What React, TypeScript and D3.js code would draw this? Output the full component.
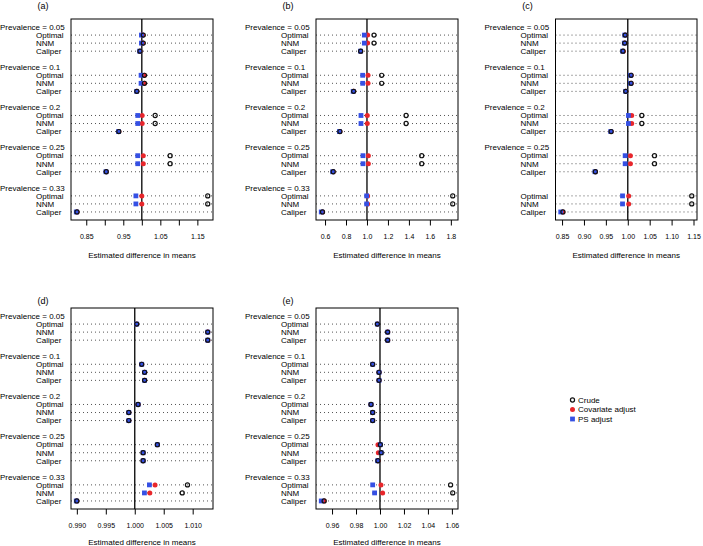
import { useEffect, useRef } from "react";
import * as d3 from "d3";

const PREVALENCES = ["0.05", "0.1", "0.2", "0.25", "0.33"];
const METHODS = ["Optimal", "NNM", "Caliper"];
const SERIES = ["Crude", "Covariate adjust", "PS adjust"];

// every series: Optimal, NNM, Caliper for prevalence 0.05, 0.1, 0.2, 0.25, 0.33
const A_CRUDE = [1.004, 1.004, 0.995, 1.007, 1.007, 0.9865, 1.036, 1.036, 0.938, 1.0765, 1.0765, 0.904, 1.178, 1.178, 0.825];
const A_COVARIATE = [1.002, 1.002, 0.995, 1.007, 1.007, 0.9865, 1.001, 1.001, 0.938, 1.004, 1.004, 0.904, 1.0, 1.0, 0.825];
const A_PS = [0.999, 0.999, 0.994, 0.998, 0.998, 0.986, 0.989, 0.989, 0.937, 0.989, 0.989, 0.903, 0.984, 0.984, 0.823];

const B_CRUDE = [1.067, 1.067, 0.94, 1.14, 1.14, 0.873, 1.373, 1.373, 0.742, 1.522, 1.522, 0.678, 1.818, 1.818, 0.576];
const B_COVARIATE = [1.006, 1.006, 0.94, 1.01, 1.01, 0.873, 1.003, 1.003, 0.742, 1.013, 1.013, 0.678, 1.006, 1.006, 0.576];
const B_PS = [0.975, 0.975, 0.938, 0.959, 0.959, 0.868, 0.943, 0.943, 0.737, 0.962, 0.962, 0.672, 0.997, 0.997, 0.564];

const C_CRUDE = [0.994, 0.993, 0.989, 1.0076, 1.0076, 0.9954, 1.032, 1.032, 0.962, 1.061, 1.061, 0.926, 1.146, 1.146, 0.852];
const C_COVARIATE = [0.994, 0.993, 0.99, 1.0076, 1.0076, 0.9954, 1.009, 1.009, 0.962, 1.006, 1.006, 0.926, 1.002, 1.002, 0.852];
const C_PS = [0.993, 0.992, 0.988, 1.006, 1.006, 0.995, 1.0015, 1.0015, 0.961, 0.994, 0.994, 0.925, 0.988, 0.988, 0.847];

const D_CRUDE = [1.00034, 1.0126, 1.0126, 1.0012, 1.0017, 1.0017, 1.00057, 0.99897, 0.99897, 1.0039, 1.00144, 1.00144, 1.0091, 1.0082, 0.99];
const D_COVARIATE = [1.00034, 1.0126, 1.0126, 1.0012, 1.0017, 1.0017, 1.00057, 0.99897, 0.99897, 1.0039, 1.00144, 1.00144, 1.0035, 1.0026, 0.99];
const D_PS = [1.00034, 1.0126, 1.0126, 1.0012, 1.0017, 1.0017, 1.00057, 0.99897, 0.99897, 1.0039, 1.00144, 1.00144, 1.00253, 1.00167, 0.9899];

const E_CRUDE = [0.9978, 1.0064, 1.0064, 0.9939, 0.9992, 0.9992, 0.9925, 0.9939, 0.9939, 1.0003, 1.001, 0.9983, 1.0589, 1.0607, 0.9534];
const E_COVARIATE = [0.9978, 1.0064, 1.0064, 0.9939, 0.9992, 0.9992, 0.9925, 0.9939, 0.9939, 0.9983, 0.9986, 0.9983, 1.0008, 1.0022, 0.9534];
const E_PS = [0.9978, 1.0064, 1.0064, 0.9939, 0.9992, 0.9992, 0.9925, 0.9939, 0.9939, 1.0003, 1.001, 0.998, 0.9939, 0.9955, 0.951];

const A_TICKS = [0.85, 0.9, 0.95, 1.0, 1.05, 1.1, 1.15];
const A_TICK_LABELS = ["0.85", "", "0.95", "", "1.05", "", "1.15"];
const B_TICKS = [0.6, 0.8, 1.0, 1.2, 1.4, 1.6, 1.8];
const B_TICK_LABELS = ["0.6", "0.8", "1.0", "1.2", "1.4", "1.6", "1.8"];
const C_TICKS = [0.85, 0.9, 0.95, 1.0, 1.05, 1.1, 1.15];
const C_TICK_LABELS = ["0.85", "0.90", "0.95", "1.00", "1.05", "1.10", "1.15"];
const D_TICKS = [0.99, 0.995, 1.0, 1.005, 1.01];
const D_TICK_LABELS = ["0.990", "0.995", "1.000", "1.005", "1.010"];
const E_TICKS = [0.96, 0.98, 1.0, 1.02, 1.04, 1.06];
const E_TICK_LABELS = ["0.96", "0.98", "1.00", "1.02", "1.04", "1.06"];

// panel (c) has no label on its last group
const C_GROUP_LABELS = ["0.05", "0.1", "0.2", "0.25", ""];

const COLORS = { crude: "#111111", covariate: "#e8262b", ps: "#3550e4" };
const FONT = "'Liberation Sans', Arial, Helvetica, sans-serif";

const PANELS = [
  { tag: "(a)", left: 71, top: 19, width: 142, titleY: 9, xTitleY: 258, crude: A_CRUDE, covariate: A_COVARIATE, ps: A_PS, ticks: A_TICKS, tickLabels: A_TICK_LABELS, groups: PREVALENCES },
  { tag: "(b)", left: 316, top: 19, width: 142, titleY: 9, xTitleY: 258, crude: B_CRUDE, covariate: B_COVARIATE, ps: B_PS, ticks: B_TICKS, tickLabels: B_TICK_LABELS, groups: PREVALENCES },
  { tag: "(c)", left: 555.5, top: 19, width: 141.5, titleY: 9, xTitleY: 258, crude: C_CRUDE, covariate: C_COVARIATE, ps: C_PS, ticks: C_TICKS, tickLabels: C_TICK_LABELS, groups: C_GROUP_LABELS },
  { tag: "(d)", left: 71, top: 308, width: 142, titleY: 303.5, xTitleY: 544.5, crude: D_CRUDE, covariate: D_COVARIATE, ps: D_PS, ticks: D_TICKS, tickLabels: D_TICK_LABELS, groups: PREVALENCES },
  { tag: "(e)", left: 316, top: 308, width: 142, titleY: 303.5, xTitleY: 544.5, crude: E_CRUDE, covariate: E_COVARIATE, ps: E_PS, ticks: E_TICKS, tickLabels: E_TICK_LABELS, groups: PREVALENCES },
];

export default function App() {
  const svgRef = useRef<SVGSVGElement>(null);

  useEffect(() => {
    const width = 703;
    const height = 546;
    const plotHeight = 201;

    const svg = d3.select(svgRef.current);
    svg.selectAll("*").remove();
    svg.attr("width", width).attr("height", height).style("background", "#fff");

    PANELS.forEach((p) => {
      const g = svg.append("g");
      const all = [...p.crude, ...p.covariate, ...p.ps];
      const [lo, hi] = d3.extent(all) as [number, number];
      const pad = (hi - lo) * 0.04;

      const x = d3
        .scaleLinear()
        .domain([lo - pad, hi + pad])
        .range([p.left, p.left + p.width]);

      // rows from the top: group header, three methods, blank line
      const y = d3
        .scaleLinear()
        .domain([-1, 24])
        .range([p.top, p.top + plotHeight]);

      const rows = p.crude.map((_, i) => {
        const grp = Math.floor(i / 3);
        const m = i % 3;
        return {
          row: grp * 5 + 1 + m,
          method: METHODS[m],
          crude: p.crude[i],
          covariate: p.covariate[i],
          ps: p.ps[i],
        };
      });

      g.selectAll("line.guide")
        .data(rows)
        .join("line")
        .attr("class", "guide")
        .attr("x1", p.left)
        .attr("x2", p.left + p.width)
        .attr("y1", (d) => y(d.row))
        .attr("y2", (d) => y(d.row))
        .attr("stroke", "#555")
        .attr("stroke-width", 1)
        .attr("stroke-dasharray", "1,3");

      g.append("line")
        .attr("x1", x(1))
        .attr("x2", x(1))
        .attr("y1", p.top)
        .attr("y2", p.top + plotHeight)
        .attr("stroke", "#000")
        .attr("stroke-width", 1.3);

      g.append("rect")
        .attr("x", p.left)
        .attr("y", p.top)
        .attr("width", p.width)
        .attr("height", plotHeight)
        .attr("fill", "none")
        .attr("stroke", "#000")
        .attr("stroke-width", 1);

      g.selectAll("circle.cov")
        .data(rows)
        .join("circle")
        .attr("class", "cov")
        .attr("cx", (d) => x(d.covariate))
        .attr("cy", (d) => y(d.row))
        .attr("r", 2.5)
        .attr("fill", COLORS.covariate);

      g.selectAll("rect.ps")
        .data(rows)
        .join("rect")
        .attr("class", "ps")
        .attr("x", (d) => x(d.ps) - 2.4)
        .attr("y", (d) => y(d.row) - 2.4)
        .attr("width", 4.8)
        .attr("height", 4.8)
        .attr("fill", COLORS.ps);

      g.selectAll("circle.crude")
        .data(rows)
        .join("circle")
        .attr("class", "crude")
        .attr("cx", (d) => x(d.crude))
        .attr("cy", (d) => y(d.row))
        .attr("r", 2.05)
        .attr("fill", "none")
        .attr("stroke", COLORS.crude)
        .attr("stroke-width", 1.2);

      g.selectAll("text.method")
        .data(rows)
        .join("text")
        .attr("class", "method")
        .attr("x", p.left - 35)
        .attr("y", (d) => y(d.row))
        .attr("dy", "0.35em")
        .attr("font-family", FONT)
        .attr("font-size", 8)
        .attr("fill", "#000")
        .text((d) => d.method);

      g.selectAll("text.group")
        .data(p.groups)
        .join("text")
        .attr("class", "group")
        .attr("x", p.left - 71)
        .attr("y", (_, i) => y(i * 5))
        .attr("dy", "0.35em")
        .attr("font-family", FONT)
        .attr("font-size", 8)
        .attr("fill", "#000")
        .text((d) => (d ? `Prevalence = ${d}` : ""));

      g.append("g")
        .attr("transform", `translate(0, ${p.top + plotHeight})`)
        .call(
          d3
            .axisBottom(x)
            .tickValues(p.ticks)
            .tickFormat((_, i) => p.tickLabels[i])
            .tickSize(5.5)
            .tickSizeOuter(0)
            .tickPadding(8.5),
        )
        .call((a) => a.select(".domain").remove())
        .call((a) => a.selectAll("line").attr("stroke", "#000"))
        .call((a) =>
          a
            .selectAll("text")
            .attr("font-family", FONT)
            .attr("font-size", 7)
            .attr("fill", "#000"),
        );

      g.append("text")
        .attr("x", p.left + p.width / 2)
        .attr("y", p.xTitleY)
        .attr("text-anchor", "middle")
        .attr("font-family", FONT)
        .attr("font-size", 8)
        .attr("fill", "#000")
        .text("Estimated difference in means");

      g.append("text")
        .attr("x", p.left - 28)
        .attr("y", p.titleY)
        .attr("text-anchor", "middle")
        .attr("font-family", FONT)
        .attr("font-size", 9)
        .attr("fill", "#000")
        .text(p.tag);
    });

    // legend
    const legend = svg.append("g");
    const ly = d3.scaleLinear().domain([0, 2]).range([400, 419]);
    SERIES.forEach((name, i) => {
      const cy = ly(i);
      if (i === 0) {
        legend
          .append("circle")
          .attr("cx", 572.5)
          .attr("cy", cy)
          .attr("r", 2.05)
          .attr("fill", "none")
          .attr("stroke", COLORS.crude)
          .attr("stroke-width", 1.2);
      } else if (i === 1) {
        legend
          .append("circle")
          .attr("cx", 572.5)
          .attr("cy", cy)
          .attr("r", 2.5)
          .attr("fill", COLORS.covariate);
      } else {
        legend
          .append("rect")
          .attr("x", 570.1)
          .attr("y", cy - 2.4)
          .attr("width", 4.8)
          .attr("height", 4.8)
          .attr("fill", COLORS.ps);
      }
      legend
        .append("text")
        .attr("x", 578)
        .attr("y", cy)
        .attr("dy", "0.35em")
        .attr("font-family", FONT)
        .attr("font-size", 8)
        .attr("fill", "#000")
        .text(name);
    });
  }, []);

  return (
    <svg
      ref={svgRef}
      style={{ position: "absolute", left: 0, top: 0, display: "block" }}
    />
  );
}
